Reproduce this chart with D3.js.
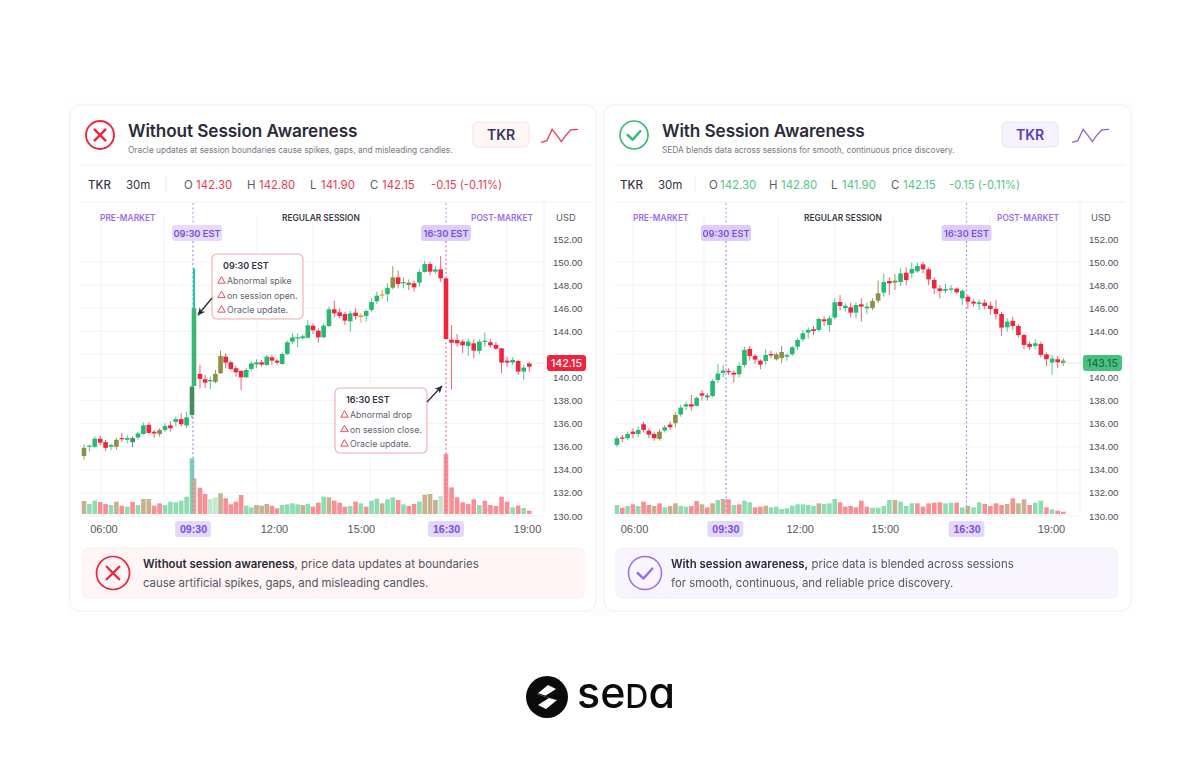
<!DOCTYPE html>
<html><head><meta charset="utf-8">
<script src="https://cdn.jsdelivr.net/npm/d3@7"></script>
<style>
html,body{margin:0;padding:0;background:#fff}
svg{display:block;font-family:Inter,"Noto Sans",sans-serif;filter:blur(0.42px)}
</style></head><body><svg id="c" width="1200" height="768"></svg>
<script>
// ---- values ----
const leftOpen=[133.2,134.0,134.0,134.7,134.4,134.0,134.0,134.75,134.6,134.4,134.8,135.1,135.9,135.3,135.1,135.45,135.85,136.15,136.4,135.85,136.76,139.27,140.31,139.85,139.67,139.62,140.37,141.81,141.32,140.8,140.57,140.02,140.74,141.14,141.32,141.09,141.75,141.46,141.17,142.04,143.11,143.37,143.4,143.45,144.49,144.06,143.48,144.46,145.91,145.65,145.5,144.87,145.62,145.39,145.33,145.85,146.6,147.09,147.21,147.78,148.68,148.16,148.22,148.16,148.22,149.14,149.83,149.17,149.37,148.59,143.28,143.25,143.11,142.73,142.96,142.3,143.11,143.05,142.82,142.53,141.46,141.29,141.43,140.51,141.23];
const leftHigh=[134.2,134.2,134.9,134.95,134.6,134.25,134.75,135.2,135.0,134.9,135.3,136.1,136.1,135.45,135.6,136.05,136.2,136.6,136.9,137.05,139.3,149.46,141.09,140.22,140.08,140.65,142.33,142.1,141.46,141.0,140.65,140.8,141.38,141.58,141.52,141.95,141.95,141.58,142.16,143.19,143.83,143.83,143.74,144.98,144.7,144.26,144.7,146.14,146.66,146.0,145.7,145.79,146.0,145.56,145.91,146.86,147.44,147.64,148.16,149.66,149.26,148.68,148.5,148.39,149.37,150.12,150.03,149.66,150.52,148.59,144.55,143.77,143.31,143.4,143.31,143.31,143.89,143.31,143.11,142.53,141.81,141.75,141.52,141.09,141.38];
const leftLow=[132.9,133.6,133.9,134.15,133.6,133.7,133.75,134.45,134.3,133.95,134.6,135.05,135.05,134.75,134.9,135.3,135.3,135.75,135.75,135.6,136.47,139.27,139.07,139.07,138.98,139.5,140.31,140.8,140.6,140.08,138.92,139.93,140.6,140.8,140.94,141.0,141.09,141.09,141.09,141.95,142.91,142.62,143.25,143.37,143.77,143.02,143.4,144.35,145.21,145.13,144.55,143.97,145.0,144.75,144.84,145.7,146.37,146.77,146.57,147.64,147.72,147.72,147.58,147.44,147.87,149.08,148.88,148.97,148.3,143.34,138.98,142.67,142.1,141.87,141.66,142.04,142.67,142.62,142.39,140.37,140.94,141.09,140.22,139.79,140.51];
const leftClose=[133.9,134.1,134.7,134.35,133.9,134.15,134.6,134.65,134.75,134.75,135.15,135.85,135.2,135.15,135.45,135.8,135.6,136.4,135.95,136.55,139.21,145.99,139.88,139.56,139.79,140.31,141.87,141.29,140.74,140.45,140.02,140.65,141.23,141.32,141.12,141.81,141.46,141.29,142.04,143.05,143.48,143.48,143.57,144.52,144.09,143.48,144.49,145.91,145.56,145.33,144.93,145.56,145.33,145.24,145.76,146.54,147.09,147.21,147.75,148.68,148.1,148.27,148.01,147.81,149.14,149.83,149.17,149.37,148.59,143.34,143.02,142.96,142.79,143.11,142.33,143.11,143.19,142.79,142.5,141.29,141.29,141.52,140.51,140.86,140.94];
const leftVolume=[39,30,40,36,30,27,37,25,22,36,27,45,45,25,32,27,37,35,40,52,167,107,79,60,45,50,62,47,29,37,57,25,20,27,25,30,25,17,27,29,32,29,27,30,22,34,52,50,40,34,22,24,37,32,22,40,46,32,44,50,42,29,24,30,37,58,60,42,54,180,80,50,35,30,44,27,40,27,24,52,37,20,25,18,10];
const leftVolumeTone="mggrrgmrgrgmmrrggggg"+"tmrrppmrrrrggmmmrrggggmgrrgmr"+"rrgrgrggmggrgrrgmmmp"+"rrrrrrgrrrrrgrgr";
const leftOlive=[0,6,14,25,26,59,62];
const leftDark=[9,20];
const leftAmber=[53,57];

const rightOpen=[134.16,134.8,134.74,135.31,135.11,135.95,135.4,135.11,134.68,135.4,135.92,136.04,136.79,137.48,137.68,137.54,138.63,138.29,138.4,139.79,140.4,140.57,140.42,140.28,141.09,142.47,141.87,141.46,141.43,142.04,141.58,142.21,141.81,142.01,142.67,143.31,143.89,144.18,144.12,145.04,144.55,145.19,146.54,146.02,146.08,145.62,146.34,145.99,146.02,146.66,147.35,148.36,148.22,148.27,149.08,149.02,149.2,149.8,149.37,148.45,147.72,147.52,147.61,147.7,146.86,147.0,146.57,146.37,146.48,146.22,145.94,145.5,144.35,144.9,144.46,143.68,142.91,142.73,142.91,142.01,141.29,141.58,141.46];
const rightHigh=[134.94,135.03,135.31,135.6,135.75,136.18,135.6,135.31,135.52,135.89,136.18,136.96,137.62,137.91,138.49,138.35,138.92,138.63,139.85,141.17,141.09,140.8,140.65,141.29,142.67,142.73,142.04,141.58,142.44,142.33,142.16,142.73,142.1,142.73,143.4,144.12,144.35,144.46,145.21,145.33,145.33,146.86,147.15,146.43,146.48,146.48,146.86,146.48,146.86,148.39,148.97,148.68,148.97,149.46,149.54,149.95,149.95,150.03,149.54,148.68,148.01,148.1,148.01,147.81,147.64,147.15,146.77,146.77,146.77,146.57,146.72,145.7,145.13,145.27,144.64,143.77,143.11,143.31,143.11,142.16,141.95,141.87,141.66];
const rightLow=[133.96,134.39,134.6,134.74,134.82,135.23,134.74,134.51,134.54,135.23,135.46,135.69,136.61,137.19,137.13,137.48,138.0,138.0,138.29,139.56,140.02,140.22,139.56,140.02,140.89,141.46,141.17,140.71,141.09,141.66,141.46,141.23,141.46,141.87,142.39,143.11,143.4,143.68,143.97,144.46,143.97,145.04,145.79,145.7,145.21,145.13,144.84,145.5,145.85,146.48,147.0,147.15,147.58,147.93,148.01,148.59,149.08,149.02,148.01,147.23,146.86,147.29,147.35,147.23,146.28,145.99,146.14,145.85,145.91,145.42,145.04,143.6,143.97,144.12,143.48,142.44,142.39,142.44,141.75,141.0,140.22,140.8,141.0];
const rightClose=[134.74,134.71,135.11,135.11,135.46,135.46,135.05,134.74,135.31,135.69,135.69,136.76,137.39,137.68,137.48,138.23,138.43,138.43,139.7,140.34,140.6,140.45,140.25,141.0,142.39,141.87,141.55,141.12,141.95,141.9,142.01,141.69,141.95,142.62,143.25,143.83,144.12,144.03,145.07,144.87,145.13,146.51,146.2,146.22,145.62,146.28,146.14,146.14,146.63,147.29,148.27,148.16,148.39,149.02,148.45,149.4,149.66,149.37,148.5,147.72,147.49,147.67,147.72,147.38,147.52,146.57,146.4,146.51,146.2,145.94,145.5,144.32,144.84,144.46,143.68,142.82,142.65,142.96,141.95,141.58,141.64,141.32,141.23];
const rightVolume=[27,19,24,29,24,37,27,24,32,20,24,32,24,22,24,39,29,20,32,42,45,44,27,29,40,35,20,22,25,20,22,15,17,25,29,29,27,24,32,30,32,45,35,22,24,20,40,22,19,19,24,42,42,37,24,32,32,22,32,34,35,32,34,34,20,24,20,35,30,24,32,27,30,47,32,44,27,34,40,20,14,10,7];
const rightVolumeTone="grgrgrrmrgmmggrrmrmg"+"mrgrggrrmggggggggg"+"mg"+"ggrrrrrrggggmgggrrrr"+"rggrgmggrrrrmrmmrggrgrr";
const rightOlive=[8,11,30,31,48,49,52,82];
const rightDark=[17];
const rightAmber=[];

const priceTicks=[152,150,148,146,144,142,140,138,136,134,132,130,128];
// the 142 gridline's label sits behind the last-price tag in the reference
const leftPriceLabels=["152.00","150.00","148.00","146.00","144.00","","140.00","138.00","136.00","136.00","134.00","132.00","130.00"];
const rightPriceLabels=["152.00","150.00","148.00","146.00","144.00","","140.00","138.00","136.00","134.00","134.00","132.00","130.00"];
const timeLabels=["06:00","09:30","12:00","15:00","16:30","19:00"];
const leftTimeIndex=[3.6,20.5,36.4,53,69,83.6];
const rightTimeIndex=[3.2,20.4,34.4,50.2,64.75,79.8];
const sparkSteps=[0,0.16,0.3,0.44,0.55,0.66,0.8,1];
const sparkValues=[0,0.13,1,0.49,0.05,0.49,0.95,1];
const quoteLabels=["O","H","L","C"];
const quoteValues=["142.30","142.80","141.90","142.15"];
const quoteChange="-0.15 (-0.11%)";
const lastTagPrice=141.26;

// ---- palette ----
const GREEN="#27b872",RED="#f0243c",PURPLE="#9a6cf0",DPURPLE="#7a4de2",INK="#2b2c3a",GRAY="#62636e";
const wickTone={g:"#4cc98e",r:"#f4606f",o:"#8f9a55",d:"#4a9a6c",y:"#e7a945",t:"#1fcaa2"};
const bodyTone={g:GREEN,r:RED,o:"#8e8f47",d:"#3f8f60",y:"#e5a23a",t:"#3db573"};
const volTone={g:"#8fdcb3",r:"#f88f93",m:"#c8b190",p:"#c0e9ce",t:"#74d6ae"};

const svg=d3.select("#c");
const T=(g,x,y,s,size,fill,w,anchor)=>g.append("text").attr("x",x).attr("y",y).text(s)
  .attr("font-size",size).attr("fill",fill).attr("font-weight",w||400).attr("text-anchor",anchor||"start");

svg.append("rect").attr("x",67).attr("y",102).attr("width",1068).attr("height",514).attr("fill","#fdfdff");

function crossIcon(g,cx,cy,r,sw){
  g.append("circle").attr("cx",cx).attr("cy",cy).attr("r",r).attr("fill","none").attr("stroke",RED).attr("stroke-width",sw);
  const a=r*0.38;
  g.append("path").attr("d",`M${cx-a},${cy-a}L${cx+a},${cy+a}M${cx+a},${cy-a}L${cx-a},${cy+a}`)
   .attr("stroke",RED).attr("stroke-width",sw+0.6).attr("stroke-linecap","round").attr("fill","none");
}
function checkIcon(g,cx,cy,r,col,col2,sw){
  g.append("circle").attr("cx",cx).attr("cy",cy).attr("r",r).attr("fill","none").attr("stroke",col).attr("stroke-width",sw);
  const a=r*0.45;
  g.append("path").attr("d",`M${cx-a},${cy}L${cx-a*0.2},${cy+a*0.75}L${cx+a},${cy-a*0.6}`)
   .attr("stroke",col2).attr("stroke-width",sw+0.9).attr("stroke-linecap","round").attr("stroke-linejoin","round").attr("fill","none");
}

function panel(p){
  const g=svg.append("g");
  g.append("rect").attr("x",p.card[0]).attr("y",105).attr("width",p.card[1]).attr("height",506).attr("rx",10)
    .attr("fill","#fff").attr("stroke","#efeff5");
  // header
  if(p.bad) crossIcon(g,p.icon,135,14,1.9); else checkIcon(g,p.icon,135,14,"#3dbb78","#3dbb78",1.7);
  T(g,p.tx,137,p.title,17.2,INK,600).attr("letter-spacing",-0.1);
  T(g,p.tx,153,p.sub,8.3,"#777884");
  g.append("rect").attr("x",p.chip).attr("y",122).attr("width",56).attr("height",25).attr("rx",5)
    .attr("fill",p.chipFill).attr("stroke",p.chipStroke);
  T(g,p.chip+28,139.5,"TKR",14,p.chipText,600,"middle");
  const sx=d3.scaleLinear().domain([0,1]).range([p.spark,p.spark+37]);
  const sy=d3.scaleLinear().domain([0,1]).range([142.3,129.3]);
  g.append("path").attr("d",d3.line().x((d,i)=>sx(sparkSteps[i])).y(d=>sy(d))(sparkValues))
    .attr("fill","none").attr("stroke",p.sparkCol).attr("stroke-width",1.3);
  // rows
  g.selectAll(null).data([165,202]).join("line").attr("x1",p.card[0]+10).attr("x2",p.card[0]+p.card[1]-6)
    .attr("y1",d=>d).attr("y2",d=>d).attr("stroke","#f1f1f5");
  T(g,p.row[0],188.5,"TKR",11.5,"#33343f",500);
  T(g,p.row[1],188.5,"30m",11.5,"#33343f",400);
  g.append("line").attr("x1",p.row[2]).attr("x2",p.row[2]).attr("y1",176).attr("y2",192).attr("stroke","#ececf1");
  quoteLabels.forEach((q,i)=>{
    T(g,p.qL[i],188.5,q,11.4,"#5c5d68");
    T(g,p.qV[i],188.5,quoteValues[i],11.4,p.valCol,400);
  });
  T(g,p.qC,188.5,quoteChange,11.2,p.valCol,400);

  // scales
  const y=d3.scaleLinear().domain([priceTicks[0],priceTicks[priceTicks.length-1]]).range([239,516]);
  const x=d3.scaleLinear().domain(p.xd).range(p.xr);
  const vy=d3.scaleLinear().domain([0,180]).range([514,454]);

  // grid
  g.selectAll(null).data(priceTicks.slice(1)).join("line").attr("x1",p.card[0]+10).attr("x2",p.axisX)
    .attr("y1",d=>y(d)).attr("y2",d=>y(d)).attr("stroke","#f3f3f7");
  g.selectAll(null).data(p.vgrid).join("line").attr("x1",d=>d).attr("x2",d=>d)
    .attr("y1",215).attr("y2",514).attr("stroke","#f3f3f7");
  g.append("line").attr("x1",p.axisX).attr("x2",p.axisX).attr("y1",203).attr("y2",514).attr("stroke","#efeff4");

  // session labels
  T(g,p.sess[0],221,"PRE-MARKET",8.4,PURPLE,600);
  T(g,p.sess[1],221,"REGULAR SESSION",8.4,"#3a3b47",600);
  T(g,p.sess[2],221,"POST-MARKET",8.4,PURPLE,600);
  T(g,p.usd,221,"USD",9.3,"#55565f",400);

  // volume
  const vw=4.6;
  g.append("g").selectAll("rect").data(p.volume).join("rect")
    .attr("x",(d,i)=>x(i)-vw/2).attr("width",vw).attr("y",d=>vy(d)).attr("height",d=>vy(0)-vy(d))
    .attr("fill",(d,i)=>volTone[p.volumeTone[i]]);

  // session lines
  p.markers.forEach(m=>{
    g.append("line").attr("x1",m.x).attr("x2",m.x).attr("y1",241).attr("y2",514)
      .attr("stroke",m.col).attr("stroke-width",1.2).attr("stroke-dasharray","2 2.4");
    g.append("line").attr("x1",m.x).attr("x2",m.x).attr("y1",203).attr("y2",225)
      .attr("stroke","#b9a2f2").attr("stroke-width",1.2).attr("stroke-dasharray","2 2.4");
  });

  // candles
  const tone=i=>p.olive.includes(i)?"o":p.dark.includes(i)?"d":p.amber.includes(i)?"y":
     (i===p.spike?"t":(p.close[i]>=p.open[i]?"g":"r"));
  const cg=g.append("g");
  cg.selectAll("line").data(p.open).join("line")
    .attr("x1",(d,i)=>x(i)).attr("x2",(d,i)=>x(i))
    .attr("y1",(d,i)=>y(p.high[i])).attr("y2",(d,i)=>y(p.low[i]))
    .attr("stroke",(d,i)=>wickTone[tone(i)]).attr("stroke-width",(d,i)=>i===p.spike?2.2:1);
  cg.selectAll("rect").data(p.open).join("rect")
    .attr("x",(d,i)=>x(i)-2.3).attr("width",4.6)
    .attr("y",(d,i)=>y(Math.max(d,p.close[i])))
    .attr("height",(d,i)=>Math.max(1.2,Math.abs(y(d)-y(p.close[i]))))
    .attr("fill",(d,i)=>bodyTone[tone(i)]);

  // y axis labels
  const ax=g.append("g").attr("transform",`translate(${p.axisX+9},0)`)
    .call(d3.axisRight(y).tickValues(priceTicks).tickSize(0).tickPadding(0).tickFormat((d,i)=>p.priceLabels[i]));
  ax.select(".domain").remove();
  ax.selectAll("text").attr("font-size",9.6).attr("fill","#4d4e58").attr("font-family","inherit");

  // x axis labels
  const axb=g.append("g").attr("transform","translate(0,522)")
    .call(d3.axisBottom(x).tickValues(p.timeIndex).tickSize(0).tickPadding(0).tickFormat((d,i)=>timeLabels[i]));
  axb.select(".domain").remove();
  axb.selectAll("text").attr("font-size",11).attr("fill","#55565f").attr("font-family","inherit").attr("dy",10.5);

  // session chips
  p.markers.forEach((m,k)=>{
    g.append("rect").attr("x",m.x-25+m.off).attr("y",225).attr("width",50).attr("height",16).attr("rx",3).attr("fill",m.chip);
    T(g,m.x+m.off,236.5,`${m.label} EST`,9.3,DPURPLE,600,"middle");
  });
  const tickSel=axb.selectAll(".tick").nodes();
  [1,4].forEach(i=>{
    const cx=x(p.timeIndex[i]);
    g.insert("rect",()=>axb.node()).attr("x",cx-18).attr("y",521).attr("width",36).attr("height",16).attr("rx",3).attr("fill","#e4d8fc");
    d3.select(tickSel[i]).select("text").attr("fill",DPURPLE).attr("font-weight",600).attr("font-size",10.6);
  });

  // last price tag
  g.append("line").attr("x1",x(p.open.length-1)).attr("x2",p.axisX+2).attr("y1",y(lastTagPrice)).attr("y2",y(lastTagPrice)).attr("stroke",p.tagLine);
  g.append("rect").attr("x",p.axisX+3).attr("y",y(lastTagPrice)-8).attr("width",39).attr("height",16).attr("rx",3).attr("fill",p.tagFill);
  T(g,p.axisX+22.5,y(lastTagPrice)+3.8,p.tagText,10.6,p.tagInk,500,"middle");

  // bottom box
  g.append("rect").attr("x",p.box).attr("y",548).attr("width",501).attr("height",50).attr("rx",5).attr("fill",p.boxFill).attr("stroke",p.boxStroke);
  if(p.bad) crossIcon(g,p.box+30,573,16.5,1.7); else checkIcon(g,p.box+29,573,16.5,PURPLE,PURPLE,1.5);
  const l1=T(g,p.boxT,568,"",11.4,"#55565f");
  l1.append("tspan").text(p.boxBold).attr("font-weight",600).attr("fill",INK);
  l1.append("tspan").text(p.boxRest);
  T(g,p.boxT,587,p.boxLine2,11.4,"#55565f");
  return g;
}

const P1=panel({bad:true,card:[70,526],icon:100,tx:128,title:"Without Session Awareness",
 sub:"Oracle updates at session boundaries cause spikes, gaps, and misleading candles.",
 chip:473,chipFill:"#fff6f6",chipStroke:"#fbe0e2",chipText:"#3a3560",spark:541,sparkCol:"#ee3b4c",
 row:[88,126,166],qL:[184,247,310,370],qV:[196,259,321,382],qC:431,valCol:"#ef3a4d",
 xd:[0,20,21,22,44,69,84],xr:[84,192,194,200,313,446,529.3],axisX:544,
 vgrid:[101,164,257,313,370,507],sess:[100,282,471],usd:556,
 open:leftOpen,high:leftHigh,low:leftLow,close:leftClose,volume:leftVolume,volumeTone:leftVolumeTone,
 olive:leftOlive,dark:leftDark,amber:leftAmber,spike:21,
 priceLabels:leftPriceLabels,timeIndex:leftTimeIndex,
 markers:[{x:193,col:"#a98af0",chip:"#e6dbfc",label:"09:30",off:4},{x:446,col:"#e66fa0",chip:"#dccdfb",label:"16:30",off:0}],
 tagLine:"#fbdfe2",tagFill:"#f1233b",tagText:"142.15",tagInk:"#fff",
 box:83,boxFill:"#fff5f5",boxStroke:"#fdeeee",boxT:143,boxBold:"Without session awareness",boxRest:", price data updates at boundaries",
 boxLine2:"cause artificial spikes, gaps, and misleading candles."});

const P2=panel({bad:false,card:[604,527],icon:634,tx:662,title:"With Session Awareness",
 sub:"SEDA blends data across sessions for smooth, continuous price discovery.",
 chip:1002,chipFill:"#f7f3fe",chipStroke:"#e9e1fa",chipText:"#5a3bc0",spark:1072,sparkCol:"#8a62e6",
 row:[620,658,695],qL:[709,769,831,891],qV:[720,781,842,903],qC:949,valCol:"#52c684",
 xd:[0,46,82],xr:[617,861.3,1063.3],axisX:1080,
 vgrid:[633,676,704,778,835,893,990,1057],sess:[633,804,997],usd:1091,
 open:rightOpen,high:rightHigh,low:rightLow,close:rightClose,volume:rightVolume,volumeTone:rightVolumeTone,
 olive:rightOlive,dark:rightDark,amber:rightAmber,spike:-1,
 priceLabels:rightPriceLabels,timeIndex:rightTimeIndex,
 markers:[{x:726,col:"#a98af0",chip:"#dccdfb",label:"09:30",off:0},{x:966.5,col:"#a98af0",chip:"#dccdfb",label:"16:30",off:0}],
 tagLine:"#d8f3e4",tagFill:"#46c27f",tagText:"143.15",tagInk:"#1f6a45",
 box:616,boxFill:"#f8f5fe",boxStroke:"#f2eefc",boxT:671,boxBold:"With session awareness,",boxRest:" price data is blended across sessions",
 boxLine2:"for smooth, continuous, and reliable price discovery."});

// callouts on the left panel
function callout(g,bx,by,bw,bh,head,rows,rowsY,headY){
  g.append("rect").attr("x",bx).attr("y",by).attr("width",bw).attr("height",bh).attr("rx",5)
    .attr("fill","#fff").attr("stroke","#f6a9ab").attr("stroke-width",1.1);
  T(g,bx+11,headY,head,9,"#33343f",600);
  const tri=d3.symbol().type(d3.symbolTriangle).size(24);
  rows.forEach((r,i)=>{
    g.append("path").attr("d",tri).attr("transform",`translate(${bx+9.5},${rowsY[i]-3})`).attr("fill","none").attr("stroke","#ee4b5c").attr("stroke-width",1);
    T(g,bx+15,rowsY[i],r,8.8,"#62636e");
  });
}
callout(P1,212,254,91,65,"09:30 EST",["Abnormal spike","on session open.","Oracle update."],[284,298.5,313],269);
callout(P1,335,388,92,65,"16:30 EST",["Abnormal drop","on session close.","Oracle update."],[418,432.5,447],403);
const defs=svg.append("defs");
defs.append("marker").attr("id","ah").attr("viewBox","0 0 8 8").attr("refX",7).attr("refY",4).attr("markerWidth",8).attr("markerHeight",8).attr("markerUnits","userSpaceOnUse").attr("orient","auto")
 .append("path").attr("d","M0,0.5L7.5,4L0,7.5L2,4Z").attr("fill","#2b2c3a");
P1.append("line").attr("x1",212).attr("y1",298).attr("x2",198).attr("y2",315).attr("stroke","#2b2c3a").attr("stroke-width",1.3).attr("marker-end","url(#ah)");
P1.append("line").attr("x1",427).attr("y1",402).attr("x2",442).attr("y2",386).attr("stroke","#2b2c3a").attr("stroke-width",1.3).attr("marker-end","url(#ah)");

// logo
const L=svg.append("g");
L.append("circle").attr("cx",547).attr("cy",697).attr("r",21).attr("fill","#0b0b0b");
L.append("path").attr("transform","translate(547,697)")
 .attr("d","M-10,-3L1,-12L9,-8L-2,-1L10,3L-1,12L-9,8L2,1Z").attr("fill","#fff");
L.append("path").attr("transform","translate(547,697)")
 .attr("d","M-12,-4L-9,-4L8,2L9,3L-1,0Z").attr("fill","#0b0b0b");
const W=T(L,577,708,"",43,"#0b0b0b",500).attr("textLength",98).attr("lengthAdjust","spacingAndGlyphs")
  .style("font-feature-settings",'"cv11"');
W.append("tspan").text("se");
W.append("tspan").text("d").attr("font-size",32).style("text-transform","uppercase");
W.append("tspan").text("a");
</script></body></html>
